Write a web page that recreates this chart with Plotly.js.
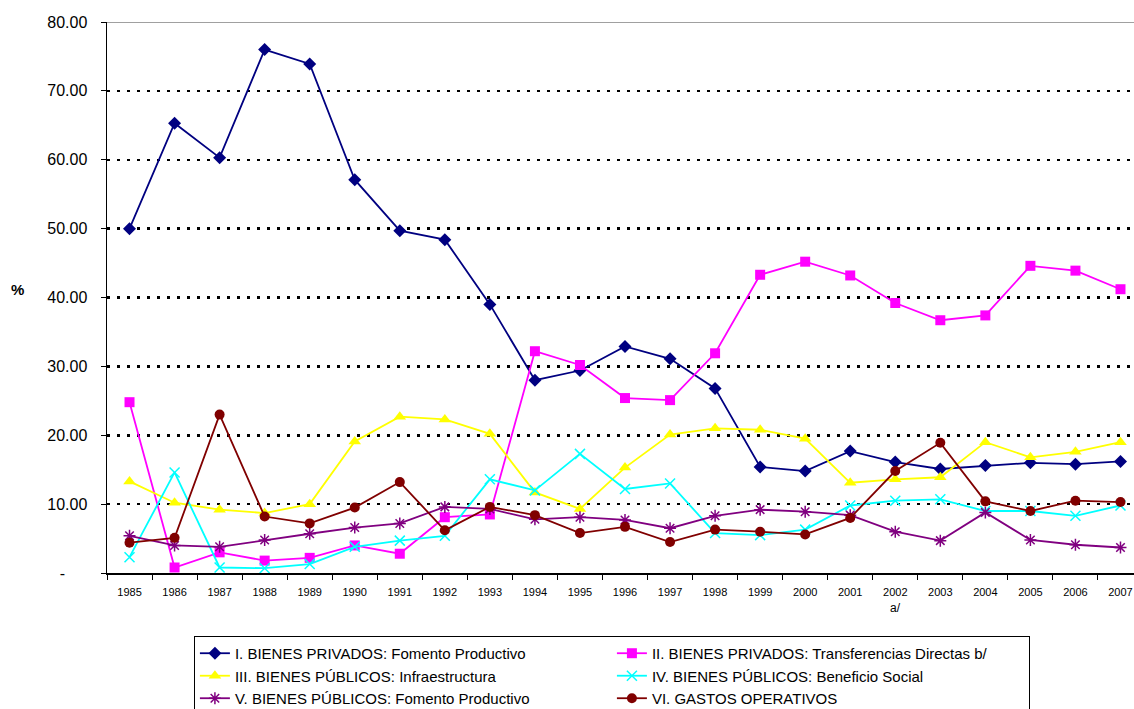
<!DOCTYPE html>
<html>
<head>
<meta charset="utf-8">
<script src="https://cdn.plot.ly/plotly-3.0.1.min.js"></script>
<style>html,body{margin:0;padding:0;background:#fff;}#chart{width:1134px;height:709px;}</style>
</head>
<body>
<div id="chart"></div>
<script>
const years = ["1985","1986","1987","1988","1989","1990","1991","1992","1993","1994","1995","1996","1997","1998","1999","2000","2001","2002","2003","2004","2005","2006","2007"];

const seriesNames = [
  "I. BIENES PRIVADOS: Fomento Productivo",
  "II. BIENES PRIVADOS: Transferencias Directas b/",
  "III. BIENES PÚBLICOS: Infraestructura",
  "IV. BIENES PÚBLICOS: Beneficio Social",
  "V. BIENES PÚBLICOS: Fomento Productivo",
  "VI. GASTOS OPERATIVOS"
];

const privFomento = [50.0,65.3,60.3,76.0,73.9,57.1,49.7,48.4,39.0,28.0,29.4,32.9,31.1,26.8,15.4,14.8,17.7,16.1,15.1,15.6,16.0,15.8,16.2];
const privTransf  = [24.8,0.8,3.0,1.8,2.2,4.0,2.8,8.1,8.5,32.2,30.2,25.4,25.1,31.9,43.3,45.2,43.2,39.2,36.7,37.4,44.6,43.9,41.2];
const pubInfra    = [13.3,10.2,9.2,8.7,10.0,19.1,22.7,22.3,20.2,11.7,9.3,15.3,20.1,21.0,20.8,19.5,13.1,13.6,13.9,19.0,16.8,17.6,19.0];
const pubSocial   = [2.3,14.6,0.8,0.7,1.3,3.8,4.7,5.4,13.6,12.0,17.3,12.2,13.0,5.8,5.5,6.3,9.8,10.5,10.7,9.0,9.0,8.3,9.8];
const pubFomento  = [5.4,4.0,3.8,4.8,5.7,6.6,7.2,9.6,9.3,7.8,8.1,7.7,6.5,8.3,9.2,8.9,8.4,6.0,4.7,8.8,4.8,4.1,3.7];
const gastosOp    = [4.4,5.1,23.0,8.2,7.2,9.5,13.2,6.2,9.6,8.4,5.8,6.7,4.5,6.3,6.0,5.6,8.0,14.8,18.9,10.4,9.0,10.5,10.3];

const yTickVals = [0,10,20,30,40,50,60,70,80];
const yTickText = ["-\u00a0\u00a0\u00a0\u00a0\u00a0","10.00","20.00","30.00","40.00","50.00","60.00","70.00","80.00"];

const FONT = "Liberation Sans, Arial, sans-serif";

function tr(name, y, color, symbol, size, open) {
  const marker = {symbol: symbol, size: size, color: color};
  if (open) marker.line = {color: color, width: 1.5};
  return {x: years, y: y, name: name, type: "scatter", mode: "lines+markers",
          line: {color: color, width: 1.8}, marker: marker};
}

const data = [
  tr(seriesNames[0], privFomento, "#000080", "diamond", 10, false),
  tr(seriesNames[1], privTransf, "#FF00FF", "square", 10, false),
  tr(seriesNames[2], pubInfra, "#FFFF00", "triangle-up", 11, false),
  tr(seriesNames[3], pubSocial, "#00FFFF", "x-thin-open", 10, true),
  tr(seriesNames[4], pubFomento, "#800080", "asterisk-open", 10, true),
  tr(seriesNames[5], gastosOp, "#800000", "circle", 10, false)
];

const layout = {
  width: 1134, height: 709,
  margin: {l: 107, r: 0, t: 22, b: 136, autoexpand: false},
  paper_bgcolor: "#fff", plot_bgcolor: "#fff",
  font: {family: FONT, color: "#000"},
  showlegend: true,
  xaxis: {
    type: "category", range: [-0.5, 22.3], tickson: "boundaries",
    showgrid: false, showline: true, linecolor: "#000", linewidth: 1.5,
    ticks: "outside", ticklen: 5, tickcolor: "#000", tickwidth: 1,
    tickfont: {size: 11, family: FONT}, zeroline: false, ticklabelstandoff: 8
  },
  yaxis: {
    range: [0, 80], tickvals: yTickVals, ticktext: yTickText,
    showline: true, linecolor: "#000", linewidth: 1.5,
    ticks: "outside", ticklen: 5, tickcolor: "#000",
    showgrid: true, gridcolor: "#000", gridwidth: 2.5, griddash: "3px,7px",
    zeroline: false, tickfont: {size: 16, family: FONT}, ticklabelstandoff: 10
  },
  shapes: [{type: "line", xref: "paper", yref: "y", x0: 0, x1: 1, y0: 80, y1: 80,
            line: {color: "#808080", width: 1.5}, layer: "below"}],
  annotations: [
    {text: "<b>%</b>", xref: "paper", yref: "paper", x: -0.087, y: 0.515,
     xanchor: "center", yanchor: "middle", showarrow: false, font: {size: 15, family: FONT}},
    {text: "a/", xref: "x", yref: "paper", x: 17, y: -0.064,
     xanchor: "center", yanchor: "middle", showarrow: false, font: {size: 12, family: FONT}}
  ],
  legend: {
    orientation: "h", xref: "container", yref: "container",
    x: 0.171, xanchor: "left", y: 0.103, yanchor: "top",
    bordercolor: "#000", borderwidth: 1, bgcolor: "#fff",
    font: {size: 15, family: FONT}, entrywidth: 372, entrywidthmode: "pixels",
    traceorder: "normal"
  }
};

Plotly.newPlot("chart", data, layout, {staticPlot: true, displayModeBar: false});
</script>
</body>
</html>
